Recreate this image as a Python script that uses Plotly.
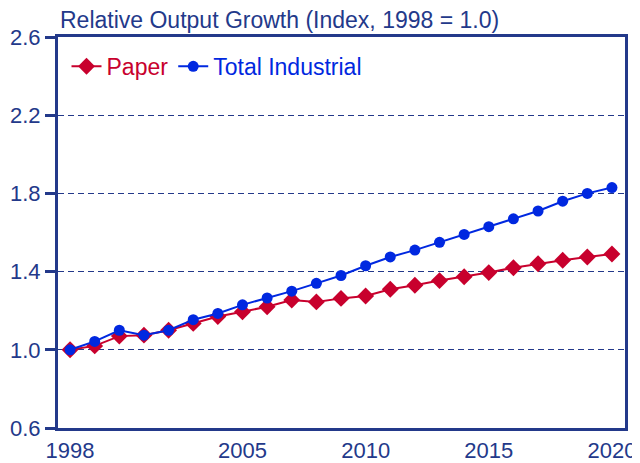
import plotly.graph_objects as go

years = list(range(1998, 2021))
paper = [1.00, 1.02, 1.07, 1.075, 1.10, 1.135, 1.17, 1.195, 1.22, 1.255, 1.245,
         1.263, 1.275, 1.31, 1.33, 1.354, 1.374, 1.395, 1.42, 1.44, 1.458, 1.475, 1.49]
total_industrial = [1.00, 1.043, 1.10, 1.075, 1.10, 1.154, 1.186, 1.23, 1.265, 1.30, 1.34,
                    1.38, 1.43, 1.475, 1.51, 1.55, 1.59, 1.63, 1.67, 1.71, 1.76, 1.80, 1.83]
x_ticks = [1998, 2005, 2010, 2015, 2020]
y_ticks = [0.6, 1.0, 1.4, 1.8, 2.2, 2.6]

NAVY = "#23398A"
RED = "#C8002D"
BLUE = "#0028E0"
FONT = "Liberation Sans, Arial, sans-serif"

fig = go.Figure()
fig.add_trace(go.Scatter(
    x=years, y=paper, mode="lines+markers",
    name=f"<span style='color:{RED}'>Paper</span>",
    line=dict(color=RED, width=2),
    marker=dict(symbol="diamond", size=13, color=RED),
))
fig.add_trace(go.Scatter(
    x=years, y=total_industrial, mode="lines+markers",
    name=f"<span style='color:{BLUE}'>Total Industrial</span>",
    line=dict(color=BLUE, width=2),
    marker=dict(symbol="circle", size=11, color=BLUE),
))

# page body has an 8px margin, so the figure is 8px smaller than the window
fig.update_layout(
    width=632, height=455,
    margin=dict(l=50, r=15, t=29, b=35, autoexpand=False),
    paper_bgcolor="white", plot_bgcolor="white",
    font=dict(family=FONT, color=NAVY, size=22),
    showlegend=True,
    legend=dict(
        orientation="h", x=0.015, y=0.98, xanchor="left", yanchor="top",
        bgcolor="rgba(0,0,0,0)", font=dict(size=23, family=FONT),
        itemwidth=30, tracegroupgap=0,
    ),
    xaxis=dict(
        range=[1997.51, 2020.53], tickvals=x_ticks, ticks="",
        ticklabelstandoff=1,
        showgrid=False, zeroline=False, automargin=False,
        showline=True, linecolor=NAVY, linewidth=3, mirror=True,
        tickfont=dict(size=22, color=NAVY),
    ),
    yaxis=dict(
        range=[0.6, 2.6], tickvals=y_ticks, tickformat=".1f",
        ticks="outside", ticklen=10, tickwidth=3, tickcolor=NAVY,
        showgrid=True, gridcolor=NAVY, gridwidth=1, griddash="6px,4px",
        zeroline=False, automargin=False,
        showline=True, linecolor=NAVY, linewidth=3, mirror=True,
        tickfont=dict(size=22, color=NAVY),
    ),
    annotations=[dict(
        text="Relative Output Growth (Index, 1998 = 1.0)",
        xref="paper", yref="paper", x=0.0, y=1.0, yshift=2,
        xanchor="left", yanchor="bottom", showarrow=False,
        font=dict(size=23, color=NAVY, family=FONT),
    )],
)

fig.write_html("out.html")
